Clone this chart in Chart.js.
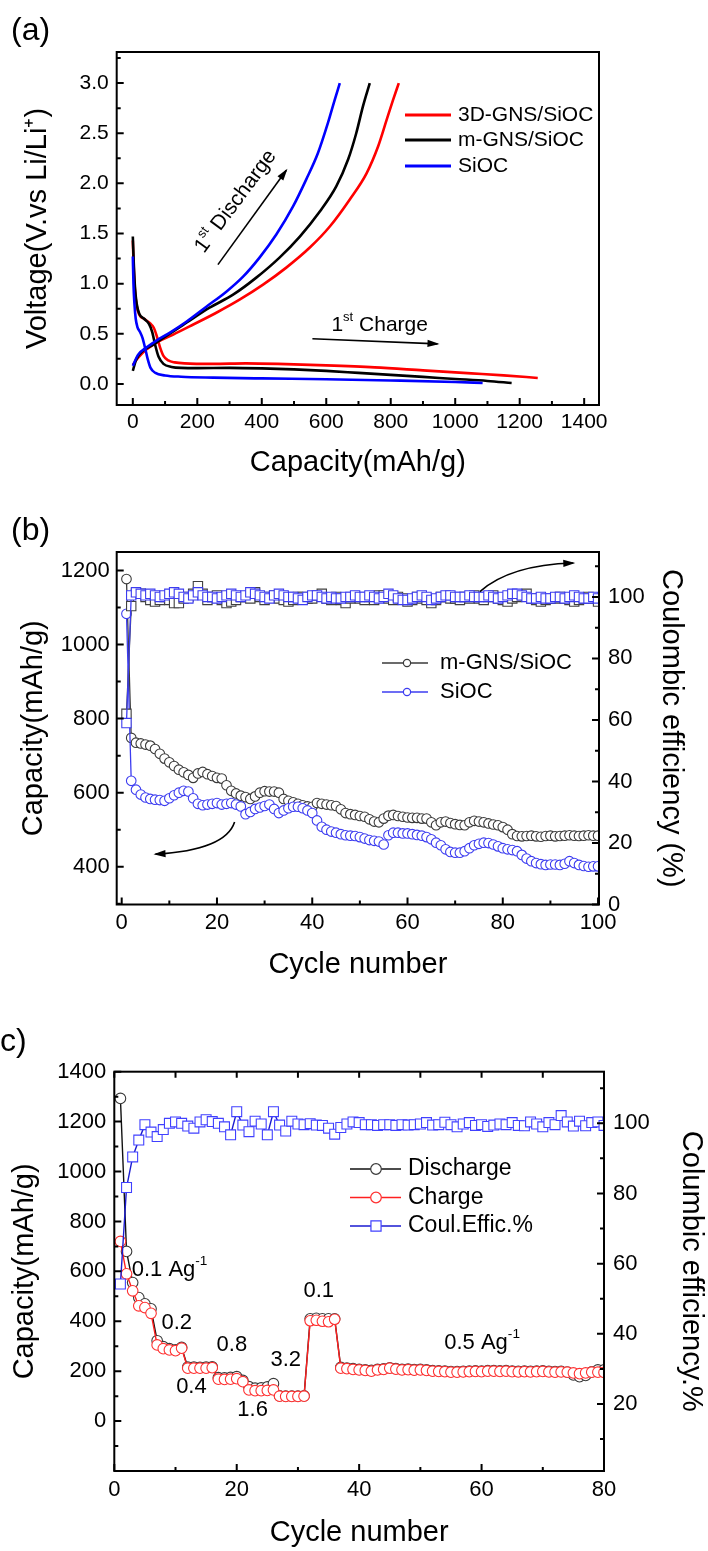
<!DOCTYPE html>
<html>
<head>
<meta charset="utf-8">
<script src="https://cdn.jsdelivr.net/npm/chart.js@4.4.1/dist/chart.umd.min.js"></script>
<style>
  body { margin: 0; background: #fff; }
  #wrap { position: relative; width: 708px; height: 1551px; }
  canvas { position: absolute; left: 0; }
</style>
</head>
<body>
<div id="wrap">
  <canvas id="chartA" width="708" height="500" style="top:0px"></canvas>
  <canvas id="chartB" width="708" height="520" style="top:500px"></canvas>
  <canvas id="chartC" width="708" height="531" style="top:1020px"></canvas>
</div>
<script>
const FONT = '"Liberation Sans", Arial, Helvetica, sans-serif';
Chart.defaults.font.family = FONT;
Chart.defaults.color = '#000';

// (a) first charge / discharge profiles, capacity (mAh/g) vs voltage (V)
const redUpCap = [0, 16, 41, 78, 124, 186, 259, 331, 404, 476, 549, 611, 673, 725, 761, 787, 807, 825];
const redUpV = [0.19, 0.26, 0.34, 0.42, 0.49, 0.59, 0.71, 0.84, 0.99, 1.16, 1.36, 1.57, 1.84, 2.10, 2.37, 2.63, 2.83, 3.0];
const redDownCap = [0, 3, 7, 12, 20, 35, 55, 65, 75, 85, 95, 110, 130, 160, 250, 350, 450, 600, 750, 900, 1050, 1150, 1256];
const redDownV = [1.43, 1.15, 0.92, 0.78, 0.69, 0.65, 0.6, 0.56, 0.47, 0.36, 0.28, 0.235, 0.215, 0.205, 0.2, 0.205, 0.2, 0.185, 0.165, 0.135, 0.105, 0.085, 0.06];
const blackUpCap = [0, 10, 31, 62, 104, 166, 238, 311, 383, 455, 518, 580, 631, 668, 693, 714, 735];
const blackUpV = [0.13, 0.24, 0.33, 0.39, 0.48, 0.61, 0.76, 0.89, 1.06, 1.26, 1.47, 1.72, 1.97, 2.24, 2.5, 2.77, 3.0];
const blackDownCap = [0, 3, 7, 12, 20, 35, 50, 60, 70, 80, 95, 120, 150, 200, 300, 400, 500, 600, 700, 800, 900, 1000, 1100, 1175];
const blackDownV = [1.47, 1.2, 0.95, 0.8, 0.7, 0.65, 0.6, 0.52, 0.38, 0.27, 0.2, 0.17, 0.16, 0.158, 0.16, 0.155, 0.145, 0.13, 0.11, 0.09, 0.07, 0.05, 0.03, 0.01];
const blueUpCap = [0, 16, 41, 72, 114, 166, 228, 290, 342, 393, 445, 497, 538, 574, 605, 626, 642];
const blueUpV = [0.18, 0.29, 0.36, 0.43, 0.51, 0.62, 0.77, 0.92, 1.07, 1.26, 1.49, 1.77, 2.04, 2.30, 2.60, 2.83, 3.0];
const blueDownCap = [0, 2, 5, 9, 14, 22, 30, 38, 46, 55, 70, 100, 150, 250, 400, 600, 800, 1000, 1085];
const blueDownV = [1.27, 1.0, 0.8, 0.65, 0.57, 0.52, 0.46, 0.36, 0.25, 0.16, 0.11, 0.085, 0.072, 0.063, 0.055, 0.047, 0.035, 0.02, 0.01];

// (b) cycling, 100 cycles
const cyclesB = Array.from({ length: 100 }, (_, i) => i + 1);
const mgnsCap = [
  1177, 748, 735, 733, 730, 727, 718, 705, 692, 682,
  672, 662, 655, 648, 640, 652, 656, 650, 645, 640,
  638, 620, 605, 598, 592, 588, 583, 590, 600, 604,
  603, 603, 600, 583, 578, 574, 570, 566, 563, 562,
  572, 570, 568, 566, 564, 555, 545, 542, 540, 537,
  535, 528, 522, 520, 530, 538, 540, 537, 535, 533,
  532, 532, 530, 530, 520, 512, 520, 522, 518, 515,
  513, 512, 520, 524, 522, 520, 517, 514, 512, 507,
  500, 488, 483, 482, 483, 484, 482, 481, 483, 484,
  482, 483, 484, 485, 484, 483, 484, 485, 484, 484];
const siocCap = [
  1083, 632, 608, 595, 587, 583, 581, 580, 578, 585,
  593, 600, 605, 603, 585, 570, 566, 568, 570, 572,
  568, 570, 572, 568, 563, 542, 548, 556, 560, 564,
  568, 556, 545, 552, 558, 562, 562, 558, 552, 545,
  525, 508, 500, 495, 492, 488, 485, 484, 483, 480,
  476, 472, 470, 468, 460, 485, 492, 492, 490, 490,
  488, 486, 484, 480, 474, 465, 458, 447, 440, 438,
  438, 442, 450, 458, 462, 465, 464, 460, 455, 450,
  447, 445, 442, 432, 422, 415, 410, 407, 405, 406,
  406, 405, 408, 415, 410, 405, 402, 400, 401, 401];
const mgnsCE = [
  62, 97, 101, 101, 100, 99, 98.5, 99, 100, 99,
  98, 98, 99.5, 100, 101, 103.5, 101, 99, 100, 100.5,
  99, 98, 98.5, 99, 100, 100, 99.5, 101.5, 100, 99,
  100, 100.5, 99.5, 99, 98.5, 99, 100, 100, 99.5, 99.5,
  100.5, 101, 99.5, 99, 100, 99, 98, 99.5, 100, 99.5,
  99, 100, 99, 100.5, 100.5, 99.5, 99, 100, 99.5, 98.5,
  99, 100, 99.5, 99, 98, 99, 100, 100, 99.5, 99.5,
  99, 100, 99.5, 100.5, 99.5, 99, 100, 100.5, 99.5, 99,
  98.5, 99.5, 100, 100.5, 101, 99.5, 99, 98.5, 99, 99.5,
  99.5, 100, 99.5, 99, 98.5, 99, 99.5, 100, 99.5, 98.5];
const siocCE = [
  59, 100.5, 101.5, 101, 100.5, 101, 100.5, 100, 100.5, 101,
  101.5, 101, 100, 99.5, 100.5, 101.5, 100.5, 100, 100, 99.5,
  100, 100.5, 101, 100.5, 100, 100.5, 101.5, 101, 100.5, 100,
  99.5, 100.5, 101, 100.5, 100, 100, 99.5, 99, 100, 100.5,
  100.5, 100, 99.5, 100, 99.5, 99.5, 100, 100, 100.5, 100,
  100, 100.5, 100, 99.5, 100, 101, 100.5, 99.5, 99, 99,
  99.5, 100, 100.5, 100, 99, 99.5, 100, 100.5, 100.5, 100,
  100, 100, 100.5, 100, 100, 100, 100.5, 100, 99.5, 100,
  100.5, 101, 101, 100.5, 100, 99.5, 99.5, 100, 99.5, 99.5,
  100, 100, 99.5, 100, 100.5, 100, 99.5, 99.5, 100, 99.5];

// (c) rate performance, 80 cycles
const cyclesC = Array.from({ length: 80 }, (_, i) => i + 1);
const dischargeC = [
  1293, 680, 555, 495, 470, 450, 322, 298, 290, 285,
  295, 216, 216, 215, 216, 217, 174, 173, 175, 178,
  163, 138, 132, 133, 137, 150, 101, 100, 100, 100,
  101, 410, 412, 410, 410, 410, 215, 212, 210, 207,
  205, 203, 207, 209, 213, 210, 207, 208, 206, 207,
  205, 202, 201, 200, 198, 198, 199, 200, 201, 200,
  202, 202, 201, 202, 200, 199, 200, 199, 200, 201,
  199, 198, 199, 196, 185, 178, 183, 197, 205, 205];
const chargeC = [
  720, 590, 522, 462, 455, 432, 305, 290, 285, 282,
  292, 212, 212, 212, 212, 214, 168, 167, 168, 170,
  158, 125, 122, 122, 123, 125, 100, 99, 99, 99,
  100, 402, 404, 400, 398, 408, 212, 210, 207, 205,
  203, 200, 205, 207, 212, 208, 205, 206, 204, 205,
  203, 200, 199, 198, 196, 196, 197, 198, 199, 198,
  200, 200, 199, 200, 198, 197, 198, 197, 198, 199,
  197, 196, 197, 196, 193, 190, 193, 196, 196, 195];
const effC = [
  54.2, 81.7, 90.4, 95.2, 99.6, 97.5, 96.2, 98.2, 100, 100.4,
  100, 99.2, 98.6, 100.4, 101, 100.5, 100, 99, 96.7, 103.3,
  99.5, 97.6, 100.6, 99.8, 96.7, 103.3, 99.5, 97.8, 100.6, 99.8,
  99.6, 99.9, 99.5, 99.4, 98.6, 96.9, 98.8, 99.8, 100.4, 100.2,
  99.6, 99.6, 99.4, 99.6, 99.6, 99.4, 99.6, 99.5, 99.6, 99.8,
  100.2, 99.5, 99.6, 100.3, 99.6, 99.0, 99.8, 100.2, 99.4, 99.6,
  99.1, 99.5, 99.8, 99.6, 100.2, 99.4, 99.3, 100.4, 99.8, 99.0,
  100.2, 99.6, 102.2, 100.4, 99.2, 100.6, 99.3, 100.2, 100.4, 99.4];

const pts = (xs, ys) => ys.map((y, i) => ({ x: xs[i], y }));
const plain = v => String(v);

// ---------- drawing helpers ----------
function drawSup(ctx, parts, x, y, size, align) {
  let w = 0;
  parts.forEach(([t, sup]) => {
    ctx.font = (sup ? size * 0.62 : size) + 'px ' + FONT;
    w += ctx.measureText(t).width;
  });
  let cx = align === 'center' ? x - w / 2 : x;
  ctx.textAlign = 'left';
  ctx.textBaseline = 'middle';
  parts.forEach(([t, sup]) => {
    ctx.font = (sup ? size * 0.62 : size) + 'px ' + FONT;
    ctx.fillText(t, cx, sup ? y - size * 0.36 : y);
    cx += ctx.measureText(t).width;
  });
}

function drawTicks(chart, spec) {
  const ctx = chart.ctx, a = chart.chartArea, s = chart.scales[spec.scale];
  const vals = s.ticks.map(t => t.value);
  const step = vals[1] - vals[0];
  const marks = vals.map(v => [v, spec.len]);
  if (spec.minor) {
    for (let v = vals[0] - step / 2; v <= s.max + 1e-9; v += step) {
      if (v >= s.min) marks.push([v, spec.minor]);
    }
  }
  ctx.beginPath();
  marks.forEach(([v, len]) => {
    const p = s.getPixelForValue(v);
    if (spec.side === 'bottom') { ctx.moveTo(p, a.bottom); ctx.lineTo(p, a.bottom - len); }
    if (spec.side === 'top') { ctx.moveTo(p, a.top); ctx.lineTo(p, a.top + len); }
    if (spec.side === 'left') { ctx.moveTo(a.left, p); ctx.lineTo(a.left + len, p); }
    if (spec.side === 'right') { ctx.moveTo(a.right, p); ctx.lineTo(a.right - len, p); }
  });
  ctx.stroke();
}

function drawMarker(ctx, style, x, y, r) {
  ctx.beginPath();
  if (style === 'rect') {
    const h = r * Math.SQRT1_2;
    ctx.rect(x - h, y - h, 2 * h, 2 * h);
  } else {
    ctx.arc(x, y, r, 0, Math.PI * 2);
  }
  ctx.fill();
  ctx.stroke();
}

function drawLegend(chart, L) {
  const ctx = chart.ctx;
  L.items.forEach((it, i) => {
    const ds = chart.data.datasets[it.ds];
    const y = L.ys[i];
    ctx.strokeStyle = ds.borderColor;
    ctx.lineWidth = L.lw;
    ctx.beginPath();
    ctx.moveTo(L.x1, y);
    ctx.lineTo(L.x2, y);
    ctx.stroke();
    if (L.r) {
      ctx.fillStyle = '#fff';
      ctx.strokeStyle = ds.pointBorderColor || ds.borderColor;
      ctx.lineWidth = 1.2;
      drawMarker(ctx, ds.pointStyle, L.mx, y, ds.pointStyle === 'rect' ? L.r * 1.35 : L.r);
    }
    ctx.fillStyle = '#000';
    ctx.font = L.size + 'px ' + FONT;
    ctx.textAlign = 'left';
    ctx.textBaseline = 'middle';
    ctx.fillText(it.text, L.tx, y);
  });
}

function drawArrow(chart, r) {
  const ctx = chart.ctx;
  const X = v => chart.scales.x.getPixelForValue(v);
  const Y = v => chart.scales[r.ys || 'y'].getPixelForValue(v);
  const x0 = X(r.from[0]), y0 = Y(r.from[1]), x1 = X(r.to[0]), y1 = Y(r.to[1]);
  let dx, dy;
  ctx.strokeStyle = '#000';
  ctx.fillStyle = '#000';
  ctx.lineWidth = 1.6;
  ctx.beginPath();
  ctx.moveTo(x0, y0);
  if (r.ctrl) {
    const cx = X(r.ctrl[0]), cy = Y(r.ctrl[1]);
    ctx.quadraticCurveTo(cx, cy, x1, y1);
    dx = x1 - cx; dy = y1 - cy;
  } else {
    ctx.lineTo(x1, y1);
    dx = x1 - x0; dy = y1 - y0;
  }
  ctx.stroke();
  const ang = Math.atan2(dy, dx), c = Math.cos(ang), s = Math.sin(ang), L = 10, W = 3.6;
  ctx.beginPath();
  ctx.moveTo(x1 + 2 * c, y1 + 2 * s);
  ctx.lineTo(x1 - L * c + W * s, y1 - L * s - W * c);
  ctx.lineTo(x1 - L * c - W * s, y1 - L * s + W * c);
  ctx.closePath();
  ctx.fill();
}

function makeDecor(spec) {
  return {
    id: 'decor',
    afterDraw(chart) {
      const ctx = chart.ctx, a = chart.chartArea;
      ctx.save();
      ctx.strokeStyle = '#000';
      ctx.lineWidth = 2;
      ctx.strokeRect(a.left, a.top, a.right - a.left, a.bottom - a.top);
      spec.ticks.forEach(t => drawTicks(chart, t));
      if (spec.legend) drawLegend(chart, spec.legend);
      (spec.arrows || []).forEach(r => drawArrow(chart, r));
      ctx.fillStyle = '#000';
      (spec.notes || []).forEach(n => {
        const px = chart.scales.x.getPixelForValue(n.x);
        const py = chart.scales[n.ys || 'y'].getPixelForValue(n.y);
        ctx.save();
        ctx.translate(px, py);
        if (n.rot) ctx.rotate(n.rot * Math.PI / 180);
        drawSup(ctx, n.parts, 0, 0, n.size, n.align);
        ctx.restore();
      });
      ctx.font = '32px ' + FONT;
      ctx.textAlign = 'left';
      ctx.textBaseline = 'middle';
      ctx.fillText(spec.label[0], spec.label[1], spec.label[2]);
      ctx.restore();
    }
  };
}

const noGrid = { display: false, drawTicks: false };
const noBorder = { display: false };

// ---------- (a) ----------
const lineA = (label, color, xs, ys) => ({
  label, data: pts(xs, ys), showLine: true, borderColor: color, borderWidth: 2.6,
  pointRadius: 0, cubicInterpolationMode: 'monotone'
});
new Chart(document.getElementById('chartA'), {
  type: 'scatter',
  data: {
    datasets: [
      lineA('SiOC', '#0000ff', blueUpCap, blueUpV),
      lineA('SiOC', '#0000ff', blueDownCap, blueDownV),
      lineA('m-GNS/SiOC', '#000000', blackUpCap, blackUpV),
      lineA('m-GNS/SiOC', '#000000', blackDownCap, blackDownV),
      lineA('3D-GNS/SiOC', '#ff0000', redUpCap, redUpV),
      lineA('3D-GNS/SiOC', '#ff0000', redDownCap, redDownV)
    ]
  },
  options: {
    responsive: false,
    animation: false,
    layout: { padding: { top: 52, right: 109, left: 0, bottom: 0 } },
    plugins: { legend: { display: false }, tooltip: { enabled: false } },
    scales: {
      x: {
        type: 'linear', min: -50, max: 1446,
        grid: noGrid, border: noBorder,
        ticks: { stepSize: 200, includeBounds: false, padding: 5, font: { size: 21 }, maxRotation: 0, autoSkip: false, callback: plain },
        title: { display: true, text: 'Capacity(mAh/g)', font: { size: 29 }, padding: { top: 0, bottom: 20 } },
        afterFit: s => { s.height = 95; }
      },
      y: {
        type: 'linear', min: -0.21, max: 3.31,
        grid: noGrid, border: noBorder,
        ticks: { stepSize: 0.5, includeBounds: false, padding: 8, font: { size: 21 }, callback: v => v.toFixed(1) },
        title: { display: true, text: 'Voltage(V.vs Li/Li\u207A)', font: { size: 29 }, padding: { top: 21, bottom: 0 } },
        afterFit: s => { s.width = 116.7; }
      }
    }
  },
  plugins: [makeDecor({
    label: ['(a)', 11, 31],
    ticks: [
      { scale: 'x', side: 'bottom', len: 7, minor: 4 },
      { scale: 'y', side: 'left', len: 7, minor: 4 }
    ],
    legend: {
      x1: 405, x2: 451, tx: 458, ys: [115, 140, 166], size: 21, lw: 3,
      items: [{ ds: 4, text: '3D-GNS/SiOC' }, { ds: 2, text: 'm-GNS/SiOC' }, { ds: 0, text: 'SiOC' }]
    },
    arrows: [
      { from: [264, 1.19], to: [476, 2.13] },
      { from: [557, 0.45], to: [945, 0.40] }
    ],
    notes: [
      { x: 319, y: 1.82, rot: -53.4, align: 'center', size: 21, parts: [['1', 0], ['st', 1], [' Discharge', 0]] },
      { x: 616, y: 0.59, align: 'left', size: 21, parts: [['1', 0], ['st', 1], [' Charge', 0]] }
    ]
  })]
});

// ---------- (b) ----------
const serB = (label, color, ys, style, r, axis) => ({
  label, data: pts(cyclesB, ys), showLine: true, yAxisID: axis,
  borderColor: color, borderWidth: 1.3, pointStyle: style, pointRadius: r,
  pointBorderColor: color, pointBackgroundColor: '#ffffff', pointBorderWidth: 1.1
});
new Chart(document.getElementById('chartB'), {
  type: 'scatter',
  data: {
    datasets: [
      serB('SiOC CE', '#3c3cf0', siocCE, 'rect', 6.6, 'y1'),
      serB('m-GNS/SiOC CE', '#404040', mgnsCE, 'rect', 6.6, 'y1'),
      serB('SiOC', '#3c3cf0', siocCap, 'circle', 4.8, 'y'),
      serB('m-GNS/SiOC', '#3a3a3a', mgnsCap, 'circle', 4.8, 'y')
    ]
  },
  options: {
    responsive: false,
    animation: false,
    layout: { padding: { top: 52, right: 0, left: 0, bottom: 0 } },
    plugins: { legend: { display: false }, tooltip: { enabled: false } },
    scales: {
      x: {
        type: 'linear', min: -1.05, max: 100.2,
        grid: noGrid, border: noBorder,
        ticks: { stepSize: 20, includeBounds: false, padding: 5, font: { size: 22 }, maxRotation: 0, autoSkip: false, callback: plain },
        title: { display: true, text: 'Cycle number', font: { size: 29 }, padding: { top: 0, bottom: 38 } },
        afterFit: s => { s.height = 115.5; }
      },
      y: {
        type: 'linear', position: 'left', min: 298, max: 1250,
        grid: noGrid, border: noBorder,
        ticks: { stepSize: 200, includeBounds: false, padding: 7, font: { size: 22 }, callback: plain },
        title: { display: true, text: 'Capacity(mAh/g)', font: { size: 29 }, padding: { top: 17, bottom: 0 } },
        afterFit: s => { s.width = 116.7; }
      },
      y1: {
        type: 'linear', position: 'right', min: 0, max: 114.6,
        grid: noGrid, border: noBorder,
        ticks: { stepSize: 20, includeBounds: false, padding: 9, font: { size: 22 }, callback: plain },
        title: { display: true, text: 'Coulombic efficiency (%)', font: { size: 29 }, padding: { top: 20, bottom: 0 } },
        afterFit: s => { s.width = 109; }
      }
    }
  },
  plugins: [makeDecor({
    label: ['(b)', 11, 31],
    ticks: [
      { scale: 'x', side: 'bottom', len: 7, minor: 4 },
      { scale: 'y', side: 'left', len: 7, minor: 4 },
      { scale: 'y1', side: 'right', len: 7, minor: 4 }
    ],
    legend: {
      x1: 382, x2: 428, mx: 407, r: 3.6, tx: 440, ys: [163, 192], size: 22, lw: 1.6,
      items: [{ ds: 3, text: 'm-GNS/SiOC' }, { ds: 2, text: 'SiOC' }]
    },
    arrows: [
      { from: [75.2, 101.7], ctrl: [81.5, 110.4], to: [94.8, 111], ys: 'y1' },
      { from: [23.7, 521], ctrl: [21.8, 445], to: [7.1, 434], ys: 'y' }
    ]
  })]
});

// ---------- (c) ----------
const serC = (label, color, lineColor, ys, style, r, axis) => ({
  label, data: pts(cyclesC, ys), showLine: true, yAxisID: axis,
  borderColor: lineColor, borderWidth: 1.4, pointStyle: style, pointRadius: r,
  pointBorderColor: color, pointBackgroundColor: '#ffffff', pointBorderWidth: 1.1
});
new Chart(document.getElementById('chartC'), {
  type: 'scatter',
  data: {
    datasets: [
      serC('Coul.Effic.%', '#4040ff', '#1a1ad0', effC, 'rect', 7, 'y1'),
      serC('Charge', '#ff3030', '#ff2020', chargeC, 'circle', 5.3, 'y'),
      serC('Discharge', '#3a3a3a', '#111111', dischargeC, 'circle', 5.3, 'y')
    ]
  },
  options: {
    responsive: false,
    animation: false,
    layout: { padding: { top: 51.7, right: 0, left: 0, bottom: 0 } },
    plugins: { legend: { display: false }, tooltip: { enabled: false } },
    scales: {
      x: {
        type: 'linear', min: 0, max: 80,
        grid: noGrid, border: noBorder,
        ticks: { stepSize: 20, padding: 6, font: { size: 22 }, maxRotation: 0, autoSkip: false, callback: plain },
        title: { display: true, text: 'Cycle number', font: { size: 29 }, padding: { top: 0, bottom: 1 } },
        afterFit: s => { s.height = 80; }
      },
      y: {
        type: 'linear', position: 'left', min: -200, max: 1400,
        grid: noGrid, border: noBorder,
        ticks: { stepSize: 200, padding: 8, font: { size: 22 }, callback: v => (v < 0 ? '' : String(v)) },
        title: { display: true, text: 'Capacity(mAh/g)', font: { size: 29 }, padding: { top: 8, bottom: 0 } },
        afterFit: s => { s.width = 114.3; }
      },
      y1: {
        type: 'linear', position: 'right', min: 0.9, max: 114.7,
        grid: noGrid, border: noBorder,
        ticks: { stepSize: 20, includeBounds: false, padding: 9, font: { size: 22 }, callback: plain },
        title: { display: true, text: 'Columbic efficiency.%', font: { size: 29 }, padding: { top: 0, bottom: 0 } },
        afterFit: s => { s.width = 104; }
      }
    }
  },
  plugins: [makeDecor({
    label: ['c)', 0, 22],
    ticks: [
      { scale: 'x', side: 'bottom', len: 7, minor: 4 },
      { scale: 'x', side: 'top', len: 6, minor: 6 },
      { scale: 'y', side: 'left', len: 7, minor: 4 },
      { scale: 'y1', side: 'right', len: 7, minor: 4 }
    ],
    legend: {
      x1: 350, x2: 401, mx: 376, r: 5.3, tx: 408, ys: [149, 177.5, 206], size: 23, lw: 1.6,
      items: [{ ds: 2, text: 'Discharge' }, { ds: 1, text: 'Charge' }, { ds: 0, text: 'Coul.Effic.%' }]
    },
    notes: [
      { x: 2.84, y: 607, align: 'left', size: 22, parts: [['0.1 Ag', 0], ['-1', 1]] },
      { x: 10.2, y: 395, align: 'center', size: 22, parts: [['0.2', 0]] },
      { x: 12.6, y: 135, align: 'center', size: 22, parts: [['0.4', 0]] },
      { x: 19.2, y: 307, align: 'center', size: 22, parts: [['0.8', 0]] },
      { x: 22.6, y: 43, align: 'center', size: 22, parts: [['1.6', 0]] },
      { x: 28.0, y: 247, align: 'center', size: 22, parts: [['3.2', 0]] },
      { x: 33.4, y: 523, align: 'center', size: 22, parts: [['0.1', 0]] },
      { x: 53.9, y: 315, align: 'left', size: 22, parts: [['0.5 Ag', 0], ['-1', 1]] }
    ]
  })]
});
</script>
</body>
</html>
